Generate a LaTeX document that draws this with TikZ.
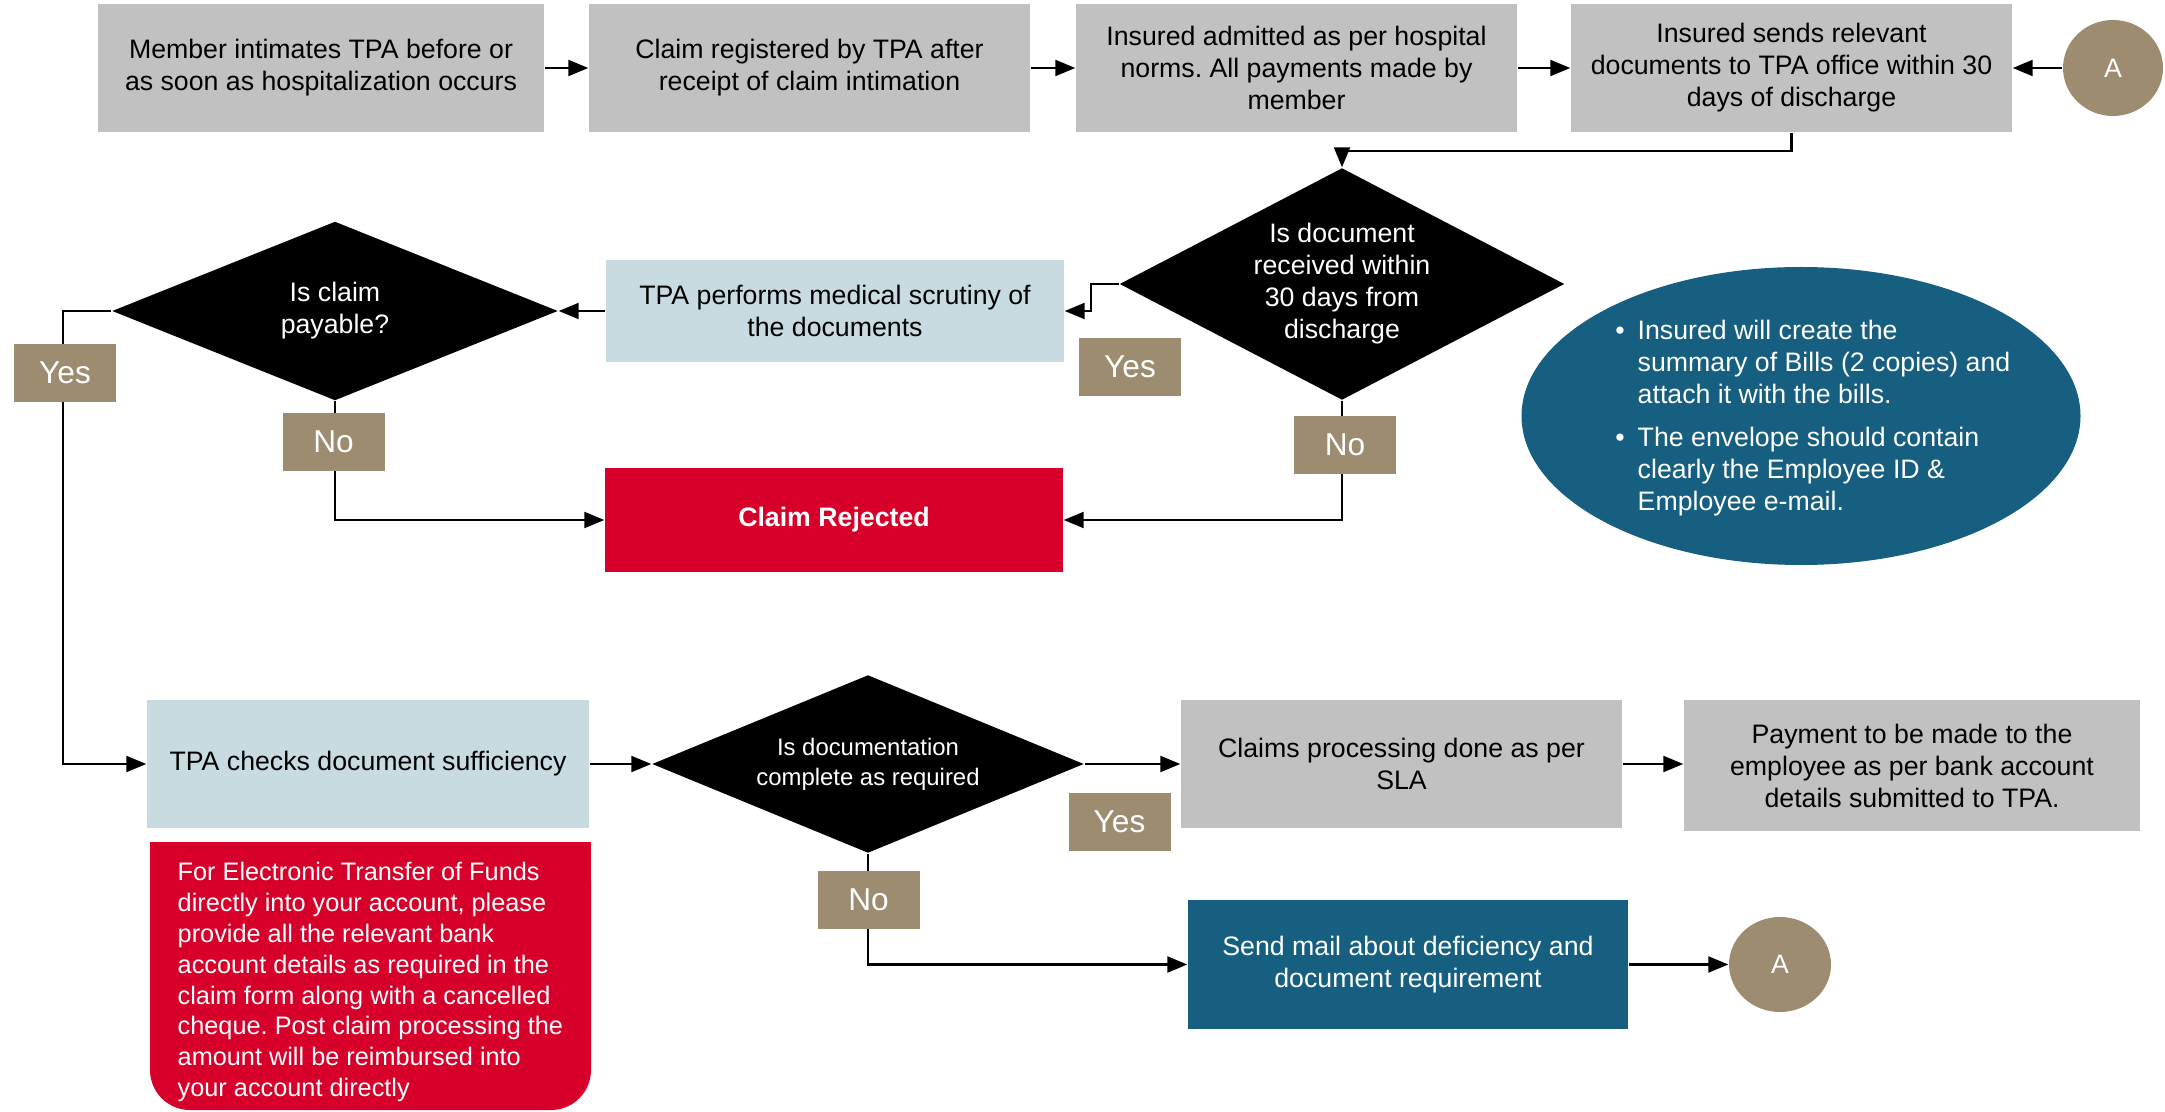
\documentclass[tikz,border=0pt]{standalone}
\usepackage{fontspec}
\setmainfont{Liberation Sans}
\frenchspacing
\usetikzlibrary{shapes.geometric,arrows.meta}
\definecolor{boxgray}{RGB}{192,193,192}
\definecolor{paleblue}{RGB}{199,219,225}
\definecolor{tagbrown}{RGB}{158,140,113}
\definecolor{rejectred}{RGB}{214,0,42}
\definecolor{mailteal}{RGB}{23,95,128}
\tikzset{
  flow/.style={rectangle, align=center, inner sep=2pt, font=\fontsize{7.6}{9.1}\selectfont},
  graybox/.style={flow, fill=boxgray, minimum width=4.41cm, minimum height=1.28cm},
  bluebox/.style={flow, fill=paleblue},
  decision/.style={diamond, fill=black, text=white, align=center, inner sep=0pt, font=\fontsize{7.6}{9.1}\selectfont},
  tag/.style={fill=tagbrown, text=white, minimum width=1.02cm, minimum height=0.58cm, inner sep=0pt, font=\fontsize{9}{11}\selectfont},
  connector/.style={ellipse, fill=tagbrown, text=white, inner sep=0pt, font=\fontsize{7.6}{9.1}\selectfont},
  arr/.style={-{Triangle[length=2mm,width=1.6mm]}, line width=0.6pt}
}
\begin{document}
\begin{tikzpicture}[x=1cm,y=-1cm]
        \useasboundingbox (0,0) rectangle (21.65,11.12);
        %% \draw[step=1,gray,very thin] (0,0) grid (21,11);
        % top row
        \node[graybox, minimum width=4.46cm] (intimate) at ( 3.21 , 0.68 ) {Member intimates TPA before or\\as soon as hospitalization occurs};
        \node[graybox] (register) at ( 8.095, 0.68 ) {Claim registered by TPA after\\receipt of claim intimation};
        \node[graybox] (admit)    at (12.965, 0.68 ) {Insured admitted as per hospital\\norms. All payments made by\\member};
        \node[graybox] (senddocs) at (17.915, 0.68 ) {Insured sends relevant\\documents to TPA office within 30\\days of discharge};
        \node[connector, minimum width=1.00cm, minimum height=0.96cm] (backA) at (21.13, 0.68) {A};
        % checks
        \node[decision, aspect=1.9, minimum width=4.45cm, minimum height=2.32cm] (intime) at (13.42, 2.84) {Is document\\received within\\30 days from\\discharge};
        \node[bluebox, minimum width=4.58cm, minimum height=1.02cm] (scrutiny) at ( 8.35, 3.11) {TPA performs medical scrutiny of\\the documents};
        \node[decision, aspect=2.5, minimum width=4.46cm, minimum height=1.79cm] (payable) at ( 3.35, 3.11) {Is claim\\payable?};
        \node[flow, fill=rejectred, text=white, minimum width=4.58cm, minimum height=1.04cm] (rejected) at ( 8.34, 5.20) {\textbf{Claim Rejected}};
        \node[ellipse, fill=mailteal, minimum width=5.59cm, minimum height=2.98cm] (bills) at (18.01, 4.16) {};
        \node[anchor=west, align=left, text=white, inner sep=0pt, font=\fontsize{7.6}{9.1}\selectfont] (billsnote) at (16.37, 4.18)
          {\llap{\textbullet\hspace{1.3mm}}Insured will create the\\summary of Bills (2 copies) and\\attach it with the bills.\\[3pt]
           \llap{\textbullet\hspace{1.3mm}}The envelope should contain\\clearly the Employee ID \&\\Employee e-mail.};
        % bottom rows
        \node[bluebox, minimum width=4.42cm, minimum height=1.28cm] (sufficiency) at ( 3.68, 7.64) {TPA checks document sufficiency};
        \node[decision, aspect=2.43, minimum width=4.32cm, minimum height=1.78cm, font=\fontsize{6.8}{8.5}\selectfont] (complete) at ( 8.68, 7.64) {Is documentation\\complete as required};
        \node[graybox] (processing) at (14.015, 7.64) {Claims processing done as per\\SLA};
        \node[graybox, minimum width=4.56cm, minimum height=1.31cm] (payment) at (19.12, 7.655) {Payment to be made to the\\employee as per bank account\\details submitted to TPA.};
        \node[flow, fill=mailteal, text=white, minimum width=4.40cm, minimum height=1.29cm] (deficiency) at (14.08, 9.645) {Send mail about deficiency and\\document requirement};
        \node[connector, minimum width=1.02cm, minimum height=0.95cm] (gotoA) at (17.80, 9.645) {A};
        \fill[rejectred, rounded corners=4mm] (1.50,8.42) rectangle (5.91,11.10);
        \fill[rejectred] (1.50,8.42) rectangle (5.91,9.50);
        \node[anchor=west, align=left, text=white, inner sep=0pt, font=\fontsize{7.2}{8.8}\selectfont] (eftnote) at (1.77, 9.82)
          {For Electronic Transfer of Funds\\directly into your account, please\\provide all the relevant bank\\account details as required in the\\claim form along with a cancelled\\cheque. Post claim processing the\\amount will be reimbursed into\\your account directly};
        % connectors
        \draw[arr] (intimate.east) -- (register.west);
        \draw[arr] (register.east) -- (admit.west);
        \draw[arr] (admit.east) -- (senddocs.west);
        \draw[arr] (backA.west) -- (senddocs.east);
        \draw[arr] (senddocs.south) -- ++(0,0.18) -| (intime.north);
        \draw[arr] (intime.west) -- ++(-0.28,0) |- (scrutiny.east);
        \draw[arr] (scrutiny.west) -- (payable.east);
        \draw[arr] (payable.west) -- ++(-0.48,0) |- (sufficiency.west);
        \draw[arr] (payable.south) |- (rejected.west);
        \draw[arr] (intime.south) |- (rejected.east);
        \draw[arr] (sufficiency.east) -- (complete.west);
        \draw[arr] (complete.east) -- (processing.west);
        \draw[arr] (processing.east) -- (processing.east -| payment.west);
        \draw[arr] (complete.south) |- (deficiency.west);
        \draw[arr] (deficiency.east) -- (gotoA.west);
        % yes / no tags
        \node[tag] (yesdoc)      at (11.30 , 3.67 ) {Yes};
        \node[tag] (nodoc)       at (13.45 , 4.45 ) {No};
        \node[tag] (yespay)      at ( 0.65 , 3.73 ) {Yes};
        \node[tag] (nopay)       at ( 3.335, 4.42 ) {No};
        \node[tag] (yescomplete) at (11.195, 8.215) {Yes};
        \node[tag] (nocomplete)  at ( 8.685, 8.995) {No};
      \end{tikzpicture}
\end{document}
